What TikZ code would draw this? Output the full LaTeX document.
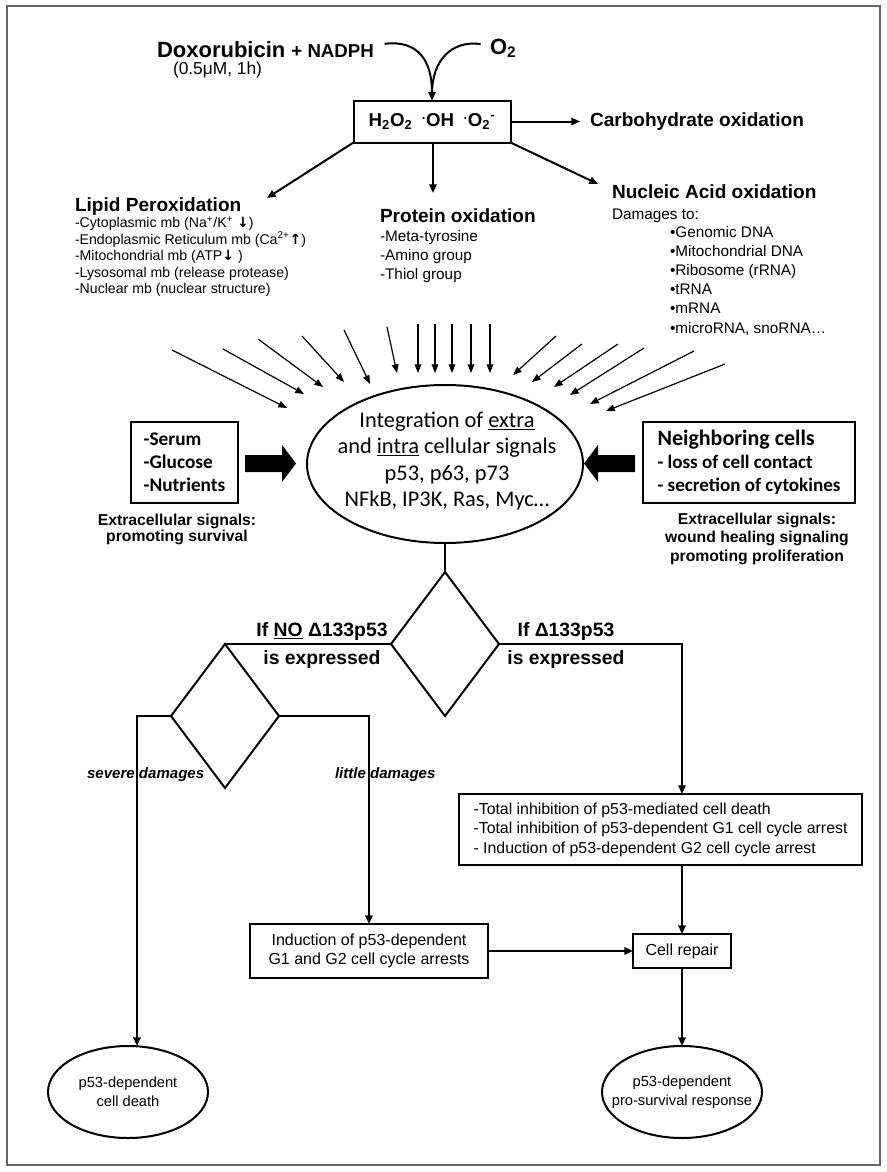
\documentclass[tikz,border=0pt]{standalone}
\usepackage{fontspec}
\setmainfont{Liberation Sans}
\newfontfamily\calib{Carlito}
\newfontfamily\djv{DejaVu Sans}
\usetikzlibrary{arrows.meta,shapes.geometric,calc}
\newcommand\fs[2]{\fontsize{#1}{#2}\selectfont}
\newcommand\arrdn{{\djv\bfseries ↓}}
\newcommand\arrup{{\djv\bfseries ↑}}
\begin{document}
\begin{tikzpicture}[x=0.75pt,y=-0.75pt,
  every node/.style={inner sep=0pt,outer sep=0pt},
  con/.style={line width=1.5pt},
  arr/.style={con,-{Triangle[length=6.5pt,width=5.5pt]}},
  fanarr/.style={line width=0.9pt,-{Triangle[length=6.5pt,width=5pt]}},
  boxed/.style={draw,line width=1.5pt},
  ttl/.style={font=\fs{14.3}{17}\bfseries},
  lipitem/.style={font=\fs{10.6}{12}},
  item/.style={font=\fs{11.5}{14}},
  flow/.style={font=\fs{12}{14.3},align=center},
]
\useasboundingbox (0,0) rectangle (887,1172);
\draw[line width=1.2pt,black!60] (7,6) rectangle (880,1165);

% ---- top
\node[anchor=base west] (dox) at (157,57) {\fs{16.5}{19}\bfseries Doxorubicin {\fs{14}{15}+ NADPH}};
\node[anchor=base west,font=\fs{13}{15}] (dose) at (173,74) {(0.5μM, 1h)};
\node[anchor=base west,font=\fs{16.5}{19}\bfseries] (o2) at (490,54) {O\textsubscript{2}};
\node[boxed,minimum width=117.75pt,minimum height=31.5pt,font=\fs{14}{16}\bfseries] (ros) at (432,121.5)
  {H\textsubscript{2}O\textsubscript{2}\enspace\textsuperscript{.}OH\enspace\textsuperscript{.}O\textsubscript{2}\textsuperscript{-}};
\coordinate (nadphEnd) at ([xshift=8pt,yshift=4pt]dox.east);
\coordinate (o2End) at ([xshift=-7pt,yshift=3pt]o2.west);
\draw[arr] (nadphEnd) .. controls +(25pt,3pt) and +(0pt,30pt) .. (ros.north);
\draw[con,shorten >=5pt] (o2End) .. controls +(-22pt,3pt) and +(0pt,30pt) .. (ros.north);
\node[anchor=west,ttl] (carb) at (590,122) {Carbohydrate oxidation};
\draw[arr,shorten >=7.5pt] (ros.east) -- (ros.east -| carb.west);

% ---- three oxidation blocks
\node[anchor=base west,ttl] (lipT) at (75,211) {Lipid Peroxidation};
\node[anchor=base west,lipitem] (lip1) at (75,227.5) {-Cytoplasmic mb (Na\textsuperscript{+}/K\textsuperscript{+} \arrdn)};
\node[anchor=base west,lipitem] (lip2) at (75,244) {-Endoplasmic Reticulum mb (Ca\textsuperscript{2+}\arrup)};
\node[anchor=base west,lipitem] (lip3) at (75,260.5) {-Mitochondrial mb (ATP\arrdn\ )};
\node[anchor=base west,lipitem] (lip4) at (75,277) {-Lysosomal mb (release protease)};
\node[anchor=base west,lipitem] (lip5) at (75,293.5) {-Nuclear mb (nuclear structure)};

\node[anchor=base west,ttl] (protT) at (380,222) {Protein oxidation};
\node[anchor=base west,item] (pro1) at (380,241.5) {-Meta-tyrosine};
\node[anchor=base west,item] (pro2) at (380,260.5) {-Amino group};
\node[anchor=base west,item] (pro3) at (380,279.5) {-Thiol group};

\node[anchor=base west,ttl] (nucT) at (612,198) {Nucleic Acid oxidation};
\node[anchor=base west,item] (nuc0) at (612,219) {Damages to:};
\foreach \t [count=\i] in {Genomic DNA,Mitochondrial DNA,Ribosome (rRNA),tRNA,mRNA,{microRNA, snoRNA…}}
  \node[anchor=base west,item] (nuc\i) at (670,{237.5+19.1*(\i-1)}) {•\t};

\coordinate (lipIn) at (267,198);
\coordinate (proIn) at (433,193);
\coordinate (nucIn) at (598,184);
\draw[arr] (ros.south west) -- (lipIn);
\draw[arr] (ros.south -| proIn) -- (proIn);
\draw[arr] (ros.south east) -- (nucIn);

% ---- fan of arrows
\foreach \ax/\ay/\bx/\by [count=\i] in {172/350/287/408,223/349/304/394,258/339/323/387,302/336/344/382,344/330/370/384,387/327/397/373,418/324/418/373,435/324/435/373,452/324/452/373,471/324/471/373,490/324/490/373,556/336/513/375,582/344/532/382,618/344/554/387,644/348/570/395,694/351/590/404,725/364/606/411}
  {\coordinate (ft\i) at (\ax,\ay); \coordinate (fh\i) at (\bx,\by); \draw[fanarr] (ft\i) -- (fh\i);}

% ---- integration ellipse
\node[draw,ellipse,line width=1.5pt,minimum width=207pt,minimum height=118.5pt] (integ) at (445,464) {};
\node[align=center,font=\calib\fs{16.8}{19.9}] (integT) at (447,461)
  {Integration of \underline{extra}\\and \underline{intra} cellular signals\\p53, p63, p73\\NFkB, IP3K, Ras, Myc…};

% side boxes
\node[boxed,minimum width=80.25pt,minimum height=60.75pt,align=left,font=\calib\fs{14.5}{17.25}\bfseries] (lbox) at (184.5,462.5)
  {-Serum\\-Glucose\\-Nutrients};
\node[boxed,minimum width=159pt,minimum height=60.75pt,align=left,font=\calib\fs{14.3}{17.25}\bfseries] (nbox) at (749,462.5)
  {{\fs{16.5}{17.25}Neighboring cells}\\- loss of cell contact\\- secretion of cytokines};
\fill (245,455) -- (282,455) -- (282,445) -- (296,463.5) -- (282,482) -- (282,472) -- (245,472) -- cycle;
\fill (635,455) -- (598,455) -- (598,445) -- (584,463.5) -- (598,482) -- (598,472) -- (635,472) -- cycle;
\node[align=center,font=\fs{11.8}{12}\bfseries] (lcap) at (177,529.5) {Extracellular signals:\\promoting survival};
\node[align=center,font=\fs{11.8}{13.9}\bfseries] (rcap) at (757,538.5) {Extracellular signals:\\wound healing signaling\\promoting proliferation};

% ---- decisions
\node[diamond,draw,line width=1.5pt,minimum width=81pt,minimum height=108pt] (dmain) at (445,644) {};
\node[diamond,draw,line width=1.5pt,minimum width=81pt,minimum height=108pt] (dleft) at (225,716) {};
\node[align=center,font=\fs{14.5}{21}\bfseries] (noexp) at (322,645) {If \underline{NO} Δ133p53\\is expressed};
\node[align=center,font=\fs{14.5}{21}\bfseries] (yesexp) at (566,645) {If Δ133p53\\is expressed};
\node[anchor=base west,font=\fs{11.3}{13}\bfseries\itshape] (sev) at (87,778) {severe damages};
\node[anchor=base west,font=\fs{11.3}{13}\bfseries\itshape] (lit) at (335,778) {little damages};

% ---- outcome nodes
\node[boxed,minimum width=302.25pt,minimum height=53.25pt,align=left,font=\fs{11.9}{14.6}] (rbox) at (660.5,829.5)
  {-Total inhibition of p53-mediated cell death\\-Total inhibition of p53-dependent G1 cell cycle arrest\\- Induction of p53-dependent G2 cell cycle arrest};
\node[boxed,minimum width=178.5pt,minimum height=40.5pt,flow] (induct) at (369,951) {Induction of p53-dependent\\G1 and G2 cell cycle arrests};
\node[boxed,minimum width=73.5pt,minimum height=25.5pt,flow] (repair) at (682,951) {Cell repair};
\node[draw,ellipse,line width=1.5pt,minimum width=120pt,minimum height=69pt] (death) at (128,1092) {};
\node[flow,font=\fs{11}{14}] (deathT) at (death.center) {p53-dependent\\cell death};
\node[draw,ellipse,line width=1.5pt,minimum width=120pt,minimum height=69pt] (surv) at (682,1092) {};
\node[flow,font=\fs{11}{14}] (survT) at (surv.center) {p53-dependent\\pro-survival response};

% ---- connectors
\draw[con] (integ.south) -- (dmain.north);
\draw[con] (dmain.west) -- (dleft.north);
\draw[arr] (dmain.east) -| (repair.north |- rbox.north);
\draw[arr] (dleft.west) -| ([xshift=6.75pt]death.north);
\draw[arr] (dleft.east) -| (induct.north);
\draw[arr] (induct.east) -- (repair.west);
\draw[arr] (rbox.south -| repair.north) -- (repair.north);
\draw[arr] (repair.south) -- (surv.north);
\end{tikzpicture}
\end{document}
